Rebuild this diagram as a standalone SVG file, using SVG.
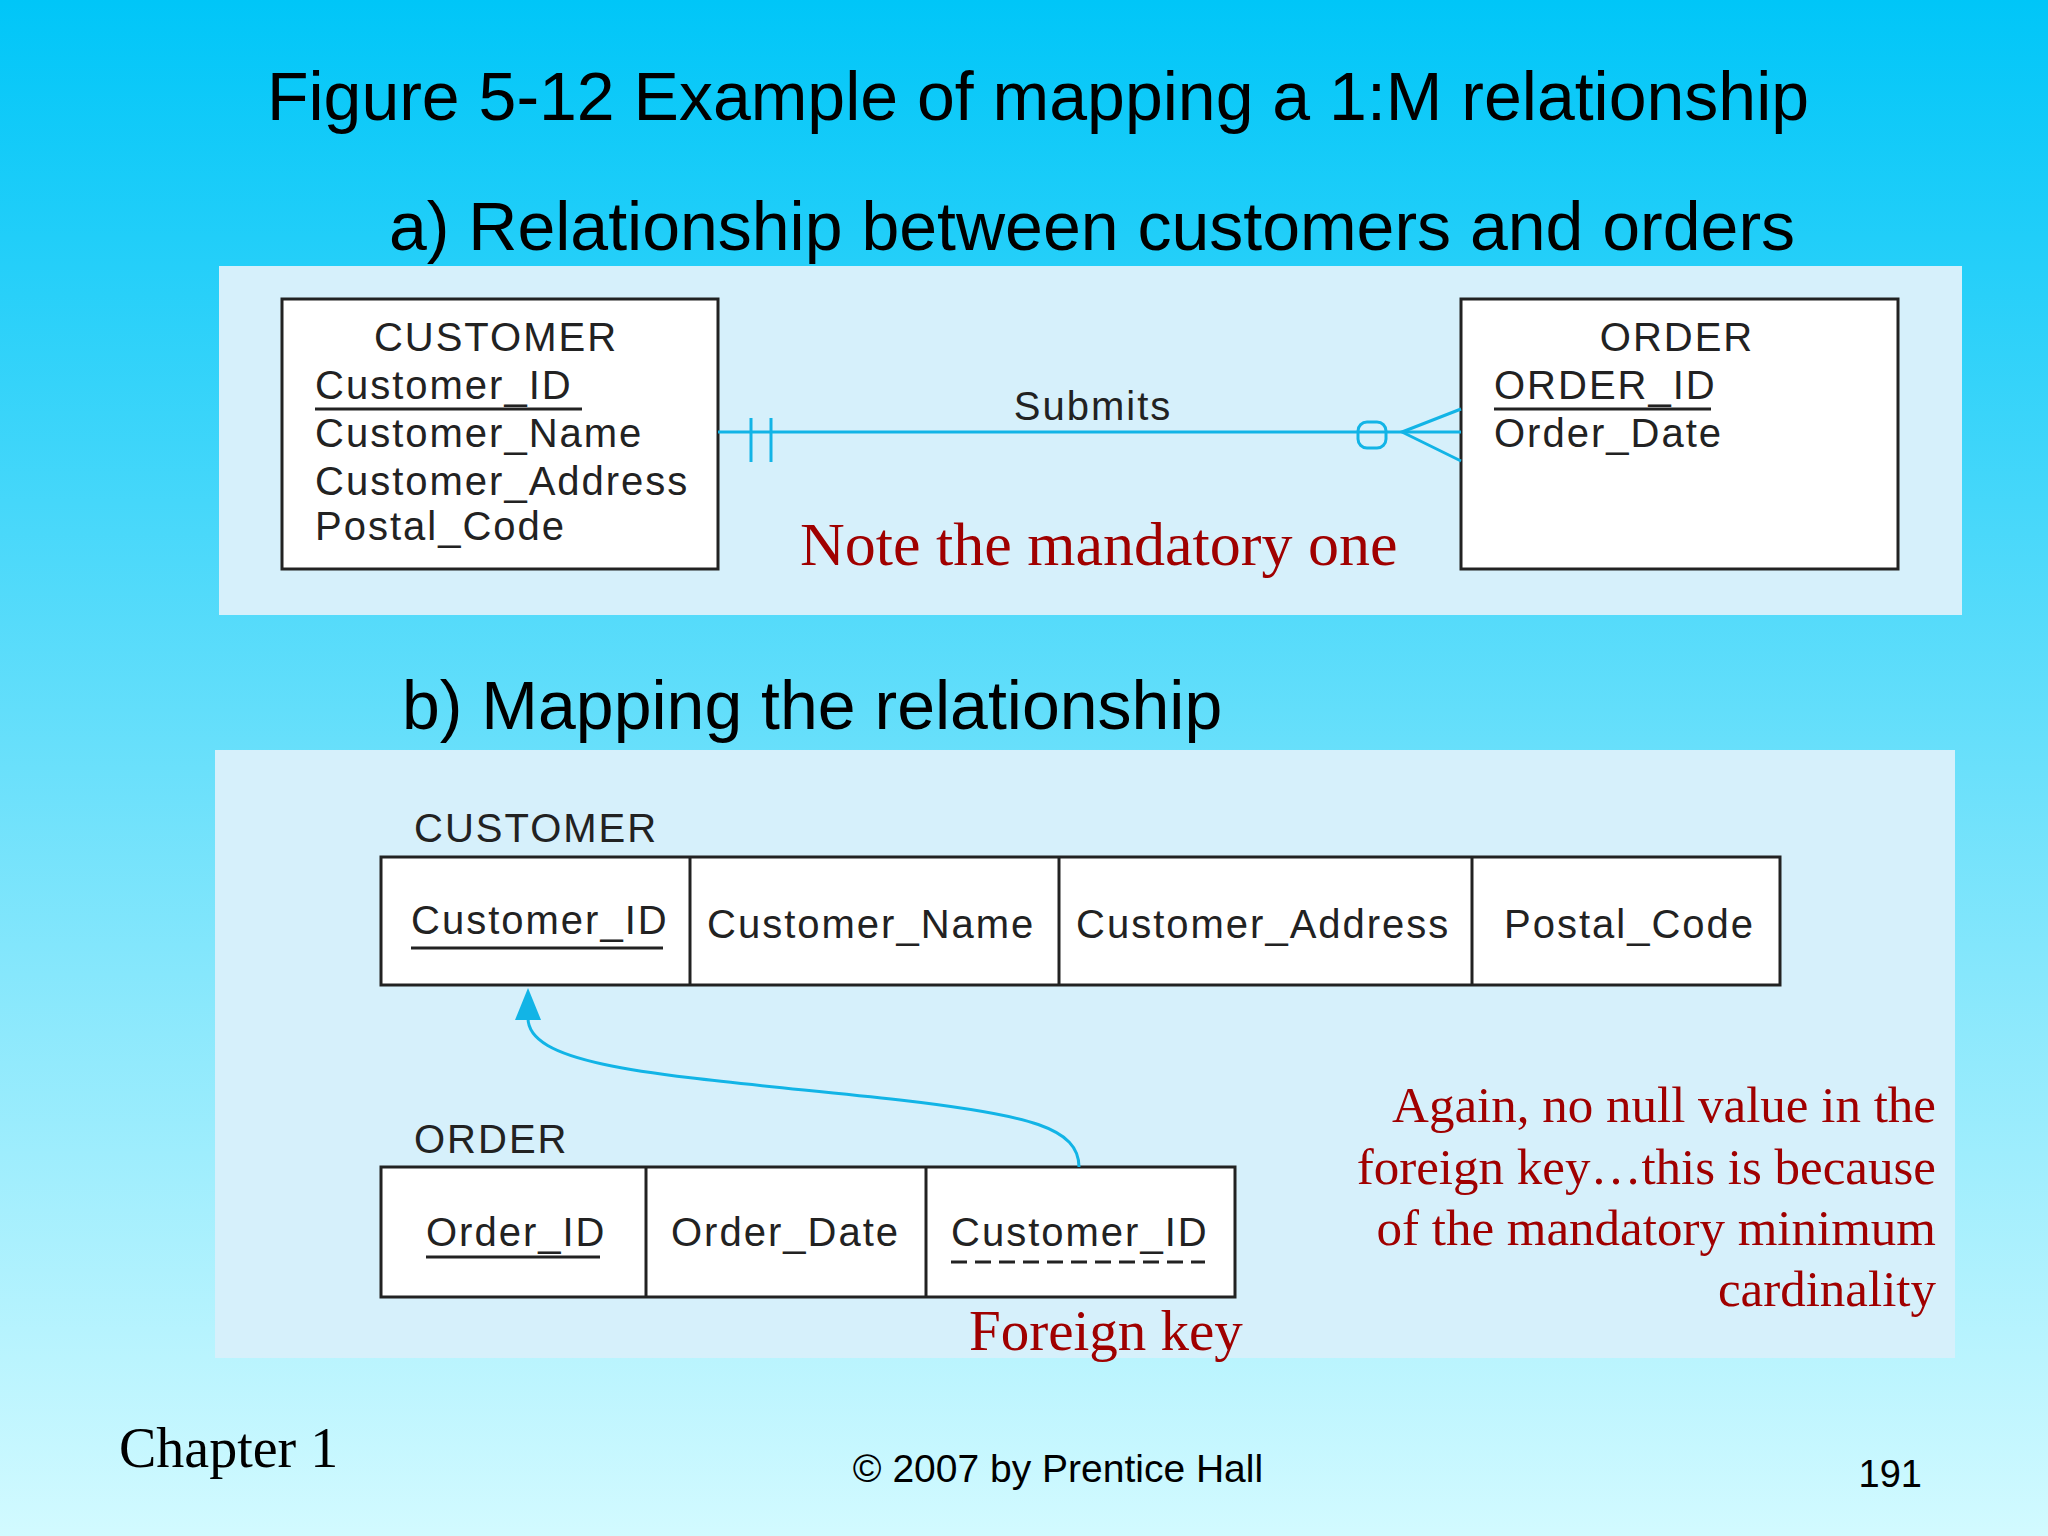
<svg xmlns="http://www.w3.org/2000/svg" width="2048" height="1536" viewBox="0 0 2048 1536">
<defs>
<linearGradient id="bg" x1="0" y1="0" x2="0" y2="1">
<stop offset="0" stop-color="#00c6f8"/><stop offset="0.5" stop-color="#6ae0fb"/><stop offset="1" stop-color="#d2faff"/>
</linearGradient>
<style>
.h{font-family:"Liberation Sans",Arial,sans-serif;fill:#000}
.d{font-family:"Liberation Sans",Arial,sans-serif;font-size:40px;fill:#222;letter-spacing:2px}
.r{font-family:"Liberation Serif","Times New Roman",serif;fill:#a00000}
.box{fill:#fff;stroke:#222;stroke-width:3}
.cy{stroke:#12b4e6;stroke-width:3;fill:none}
.ul{stroke:#222;stroke-width:3}
</style>
</defs>
<rect width="2048" height="1536" fill="url(#bg)"/>
<text class="h" x="1038" y="120" font-size="68" text-anchor="middle">Figure 5-12 Example of mapping a 1:M relationship</text>
<text class="h" x="1092" y="250" font-size="68" text-anchor="middle">a) Relationship between customers and orders</text>
<rect x="219" y="266" width="1743" height="349" fill="#d6f0fb"/>
<text class="h" x="402" y="729" font-size="68">b) Mapping the relationship</text>
<rect x="215" y="750" width="1740" height="608" fill="#d6f0fb"/>
<g id="customer-entity">
<rect class="box" x="282" y="299" width="436" height="270"/>
<text class="d" x="496" y="351" text-anchor="middle">CUSTOMER</text>
<text class="d" x="315" y="399">Customer_ID</text>
<line class="ul" x1="315" y1="409" x2="582" y2="409"/>
<text class="d" x="315" y="447">Customer_Name</text>
<text class="d" x="315" y="495">Customer_Address</text>
<text class="d" x="315" y="540">Postal_Code</text>
</g>
<g id="order-entity">
<rect class="box" x="1461" y="299" width="437" height="270"/>
<text class="d" x="1677" y="351" text-anchor="middle">ORDER</text>
<text class="d" x="1494" y="399">ORDER_ID</text>
<line class="ul" x1="1494" y1="409" x2="1711" y2="409"/>
<text class="d" x="1494" y="447">Order_Date</text>
</g>
<g id="customer-table">
<text class="d" x="414" y="842" font-size="44">CUSTOMER</text>
<rect class="box" x="381" y="857" width="1399" height="128"/>
<line class="ul" x1="690" y1="857" x2="690" y2="985"/>
<line class="ul" x1="1059" y1="857" x2="1059" y2="985"/>
<line class="ul" x1="1472" y1="857" x2="1472" y2="985"/>
<text class="d" x="411" y="934" font-size="44">Customer_ID</text>
<line class="ul" x1="411" y1="948" x2="663" y2="948"/>
<text class="d" x="707" y="938" font-size="44">Customer_Name</text>
<text class="d" x="1076" y="938" font-size="44">Customer_Address</text>
<text class="d" x="1504" y="938" font-size="44">Postal_Code</text>
</g>
<g id="order-table">
<text class="d" x="414" y="1153" font-size="44">ORDER</text>
<rect class="box" x="381" y="1167" width="854" height="130"/>
<line class="ul" x1="646" y1="1167" x2="646" y2="1297"/>
<line class="ul" x1="926" y1="1167" x2="926" y2="1297"/>
<text class="d" x="426" y="1246" font-size="44">Order_ID</text>
<line class="ul" x1="426" y1="1257" x2="600" y2="1257"/>
<text class="d" x="671" y="1246" font-size="44">Order_Date</text>
<text class="d" x="951" y="1246" font-size="44">Customer_ID</text>
<line class="ul" x1="951" y1="1262" x2="1205" y2="1262" stroke-dasharray="16,8"/>
</g>
<g id="connectors">
<line class="cy" x1="718" y1="432" x2="1461" y2="432"/>
<line class="cy" x1="751" y1="418" x2="751" y2="462"/>
<line class="cy" x1="771" y1="418" x2="771" y2="462"/>
<rect class="cy" x="1358" y="422" width="28" height="26" rx="9"/>
<path class="cy" d="M1461 409 L1402 432 L1461 461"/>
<path class="cy" d="M1079 1167 C1079 1128 1030 1115 900 1100 C680 1076 528 1070 528 1018"/>
<polygon points="528,988 515,1020 541,1020" fill="#12b4e6"/>
</g>
<text class="d" x="1093" y="420" text-anchor="middle" font-size="38">Submits</text>
<text class="r" x="800" y="565" font-size="62">Note the mandatory one</text>
<text class="r" x="969" y="1350" font-size="57">Foreign key</text>
<g class="r" font-size="51" text-anchor="end">
<text x="1936" y="1122">Again, no null value in the</text>
<text x="1936" y="1184">foreign key…this is because</text>
<text x="1936" y="1245">of the mandatory minimum</text>
<text x="1936" y="1306">cardinality</text>
</g>
<text x="119" y="1467" font-family="Liberation Serif,serif" font-size="56" fill="#000">Chapter 1</text>
<text class="h" x="1058" y="1482" font-size="39" text-anchor="middle">© 2007 by Prentice Hall</text>
<text class="h" x="1922" y="1487" font-size="38" text-anchor="end">191</text>
</svg>
